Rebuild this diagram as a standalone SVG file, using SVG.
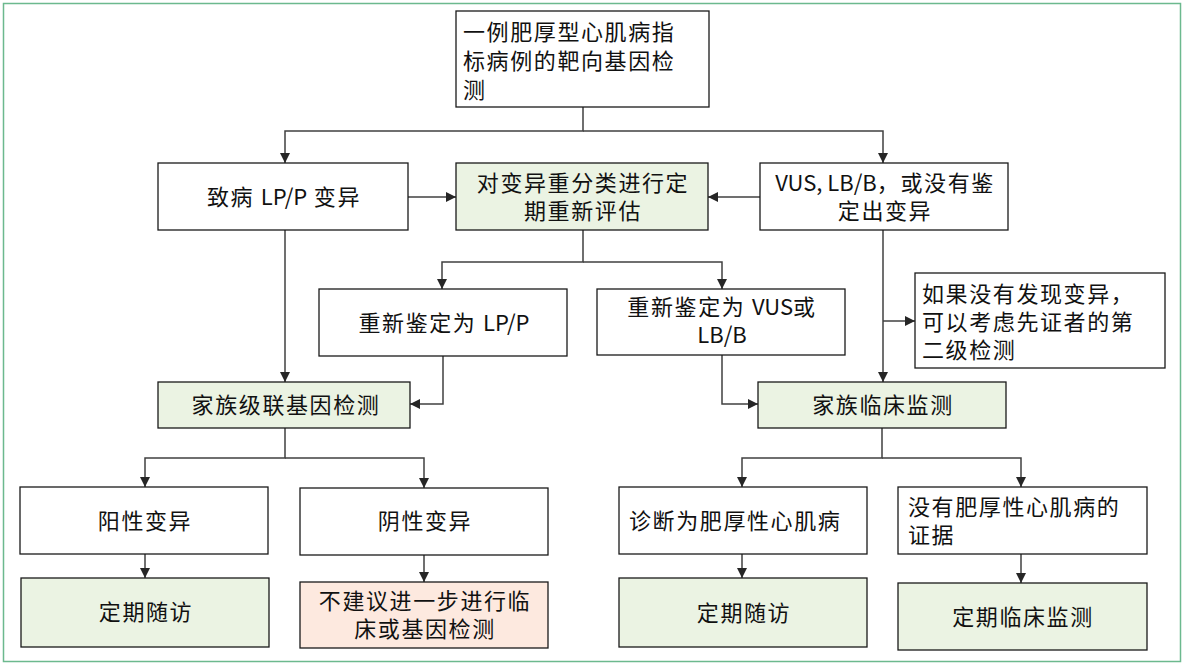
<svg xmlns="http://www.w3.org/2000/svg" width="1185" height="667" viewBox="0 0 1185 667">
<style>
.box{stroke:#1a1a1a;stroke-width:1.3}
.w{fill:#ffffff}
.g{fill:#ebf3e3}
.p{fill:#fde9df}
text{font-family:"Noto Sans CJK SC","Noto Sans",sans-serif;font-size:22px;letter-spacing:1.6px;fill:#111}
.l{letter-spacing:0}
.c{text-anchor:middle}
.conn path{fill:none;stroke:#404040;stroke-width:1.5}
</style>
<defs>
<marker id="ar" viewBox="0 0 10 10" refX="10" refY="5" markerWidth="10" markerHeight="10" markerUnits="userSpaceOnUse" orient="auto">
<path d="M0,0 L10,5 L0,10 z" fill="#262626"/>
</marker>
</defs>
<rect x="3.5" y="3.5" width="1177" height="658" fill="#ffffff" stroke="#6cb98e" stroke-width="1.5"/>

<g class="conn">
<path d="M583,107 V131 H285 V163" marker-end="url(#ar)"/>
<path d="M583,131 H883 V163" marker-end="url(#ar)"/>
<path d="M408,197 H456" marker-end="url(#ar)"/>
<path d="M760,197 H708" marker-end="url(#ar)"/>
<path d="M583,230 V262 H442 V289" marker-end="url(#ar)"/>
<path d="M583,262 H722 V289" marker-end="url(#ar)"/>
<path d="M285,230 V382" marker-end="url(#ar)"/>
<path d="M443,356 V404 H410" marker-end="url(#ar)"/>
<path d="M883,230 V382" marker-end="url(#ar)"/>
<path d="M883,321 H915" marker-end="url(#ar)"/>
<path d="M722,355 V404 H758" marker-end="url(#ar)"/>
<path d="M285,428 V458 H145 V487" marker-end="url(#ar)"/>
<path d="M285,458 H424 V488" marker-end="url(#ar)"/>
<path d="M145,554 V578" marker-end="url(#ar)"/>
<path d="M424,555 V582" marker-end="url(#ar)"/>
<path d="M882,428 V458 H742 V487" marker-end="url(#ar)"/>
<path d="M882,458 H1021 V487" marker-end="url(#ar)"/>
<path d="M742,554 V578" marker-end="url(#ar)"/>
<path d="M1021,554 V583" marker-end="url(#ar)"/>
</g>

<g id="n-top">
<rect class="box w" x="456" y="11" width="253" height="96"/>
<text x="463" y="40">一例肥厚型心肌病指</text>
<text x="463" y="69">标病例的靶向基因检</text>
<text x="463" y="98">测</text>
</g>

<g id="n-lpp">
<rect class="box w" x="158" y="163" width="250" height="67"/>
<text class="c" x="284" y="205">致病 <tspan class="l">LP/P</tspan> 变异</text>
</g>

<g id="n-reeval">
<rect class="box g" x="456" y="163" width="252" height="67"/>
<text class="c" x="583" y="191">对变异重分类进行定</text>
<text class="c" x="583" y="219">期重新评估</text>
</g>

<g id="n-vus">
<rect class="box w" x="760" y="163" width="248" height="67"/>
<text class="c" x="885" y="191"><tspan class="l">VUS, LB/B</tspan>，或没有鉴</text>
<text class="c" x="885" y="219">定出变异</text>
</g>

<g id="n-relpp">
<rect class="box w" x="319" y="289" width="248" height="67"/>
<text class="c" x="444" y="331">重新鉴定为 <tspan class="l">LP/P</tspan></text>
</g>

<g id="n-revus">
<rect class="box w" x="597" y="289" width="248" height="66"/>
<text class="c" x="722" y="315">重新鉴定为 <tspan class="l">VUS</tspan>或</text>
<text class="c l" x="722" y="343">LB/B</text>
</g>

<g id="n-second">
<rect class="box w" x="915" y="273" width="250" height="95"/>
<text x="922" y="302">如果没有发现变异，</text>
<text x="922" y="330">可以考虑先证者的第</text>
<text x="922" y="358">二级检测</text>
</g>

<g id="n-cascade">
<rect class="box g" x="158" y="382" width="252" height="46"/>
<text class="c" x="286" y="413">家族级联基因检测</text>
</g>

<g id="n-clinmon">
<rect class="box g" x="758" y="382" width="248" height="46"/>
<text class="c" x="883" y="413">家族临床监测</text>
</g>

<g id="n-pos">
<rect class="box w" x="20" y="487" width="248" height="67"/>
<text class="c" x="145" y="529">阳性变异</text>
</g>

<g id="n-neg">
<rect class="box w" x="300" y="488" width="248" height="67"/>
<text class="c" x="425" y="529">阴性变异</text>
</g>

<g id="n-fu1">
<rect class="box g" x="21" y="578" width="248" height="69"/>
<text class="c" x="146" y="620">定期随访</text>
</g>

<g id="n-notest">
<rect class="box p" x="300" y="582" width="248" height="66"/>
<text class="c" x="425" y="609">不建议进一步进行临</text>
<text class="c" x="425" y="637">床或基因检测</text>
</g>

<g id="n-hcm">
<rect class="box w" x="619" y="487" width="248" height="67"/>
<text x="629" y="529">诊断为肥厚性心肌病</text>
</g>

<g id="n-nohcm">
<rect class="box w" x="898" y="487" width="249" height="67"/>
<text x="908" y="515">没有肥厚性心肌病的</text>
<text x="908" y="543">证据</text>
</g>

<g id="n-fu2">
<rect class="box g" x="619" y="578" width="248" height="69"/>
<text class="c" x="744" y="621">定期随访</text>
</g>

<g id="n-periodic">
<rect class="box g" x="898" y="583" width="249" height="67"/>
<text class="c" x="1023" y="625">定期临床监测</text>
</g>
</svg>
